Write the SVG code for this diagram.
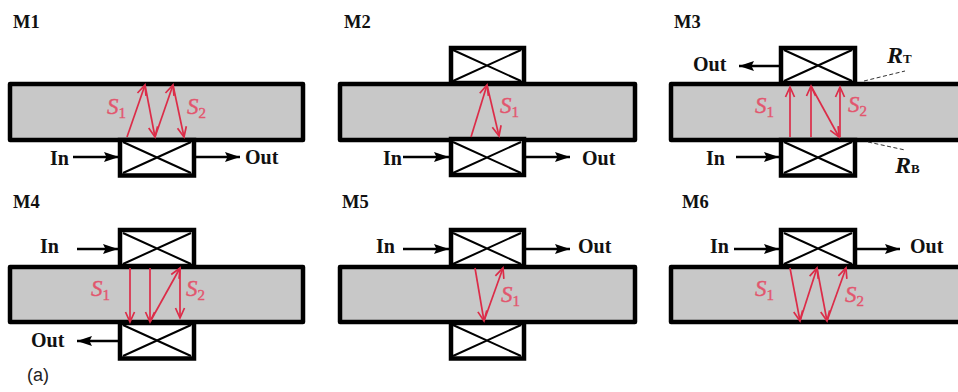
<svg xmlns="http://www.w3.org/2000/svg" width="958" height="392" viewBox="0 0 958 392">
<defs>
<style>
.wg{fill:#c8c8c8;stroke:#000;stroke-width:4.500;stroke-linejoin:round}
.box{fill:#fff;stroke:#000;stroke-width:4.500}
.x{stroke:#000;stroke-width:2;fill:none}
.io{stroke:#000;stroke-width:2.400;fill:none;marker-end:url(#bk)}
.ray{stroke:#dc2c48;stroke-width:1.700;fill:none;marker-end:url(#rd)}
.dash{stroke:#333;stroke-width:1;stroke-dasharray:4 2.5;fill:none}
.t{font-family:"Liberation Serif","Times New Roman",serif;font-weight:bold;font-size:20px;fill:#111}
.h{font-family:"Liberation Serif","Times New Roman",serif;font-weight:bold;font-size:18.500px;fill:#111}
.s{font-family:"Liberation Serif","Times New Roman",serif;font-style:italic;font-size:23px;fill:#e2566e;stroke:#e2566e;stroke-width:.4}
.sub{font-style:normal;font-size:15px}
.r{font-family:"Liberation Serif","Times New Roman",serif;font-style:italic;font-weight:bold;font-size:24px;fill:#111}
.rs{font-style:normal;font-size:13px}
.a{font-family:"Liberation Sans",Arial,sans-serif;font-size:18px;fill:#222}
</style>
<marker id="bk" markerUnits="userSpaceOnUse" markerWidth="16" markerHeight="12" refX="15" refY="6" orient="auto"><path d="M0,1 L15,6 L0,11 L2.500,6 Z" fill="#000"/></marker>
<marker id="rd" markerUnits="userSpaceOnUse" markerWidth="14" markerHeight="14" refX="11" refY="7" orient="auto"><path d="M1,2.500 L11,7 L1,11.500" fill="none" stroke="#dc2c48" stroke-width="1.700"/></marker>
<g id="c"><path class="x" d="M3,2 L71,33 M71,2 L3,33"/></g>
</defs>
<rect width="958" height="392" fill="#fff"/>

<g id="m1">
<text class="h" x="13" y="28">M1</text>
<rect class="wg" x="10" y="84" width="293" height="56"/>
<g id="m1-t"><rect class="box" x="120" y="140" width="74" height="35.500"/><use href="#c" x="120" y="140"/></g>
<text class="t" x="50" y="165">In</text><text class="t" x="245" y="164">Out</text>
<text class="s" x="107" y="114">S<tspan class="sub" dy="4">1</tspan></text>
<text class="s" x="187" y="114">S<tspan class="sub" dy="4">2</tspan></text>
</g>

<g id="m2">
<text class="h" x="344" y="28">M2</text>
<rect class="wg" x="340" y="84" width="295" height="56"/>
<g id="m2-t"><rect class="box" x="451" y="48" width="73" height="35"/><use href="#c" x="450" y="48"/></g>
<g id="m2-b"><rect class="box" x="451" y="139" width="73" height="36"/><use href="#c" x="450" y="140"/></g>
<text class="t" x="383" y="165">In</text><text class="t" x="582" y="165">Out</text>
<text class="s" x="500" y="113">S<tspan class="sub" dy="4">1</tspan></text>
</g>

<g id="m3">
<text class="h" x="674" y="28">M3</text>
<rect class="wg" x="671" y="84" width="295" height="56"/>
<g id="m3-t"><rect class="box" x="781" y="48" width="74" height="35"/><use href="#c" x="781" y="48"/></g>
<g id="m3-b"><rect class="box" x="781" y="140" width="74" height="35.500"/><use href="#c" x="781" y="140"/></g>
<text class="t" x="693" y="71">Out</text><text class="t" x="706" y="165">In</text>
<text class="s" x="755" y="113">S<tspan class="sub" dy="4">1</tspan></text>
<text class="s" x="848" y="112">S<tspan class="sub" dy="4">2</tspan></text>
<text class="r" x="887" y="63">R<tspan class="rs">T</tspan></text>
<text class="r" x="895" y="173">R<tspan class="rs">B</tspan></text>
</g>

<g id="m4">
<text class="h" x="13" y="208">M4</text>
<rect class="wg" x="10" y="267" width="293" height="55"/>
<g id="m4-t"><rect class="box" x="120" y="230" width="74" height="36"/><use href="#c" x="120" y="231"/></g>
<g id="m4-b"><rect class="box" x="120" y="323" width="74" height="35.500"/><use href="#c" x="120" y="323"/></g>
<text class="t" x="40" y="253">In</text><text class="t" x="31" y="347">Out</text>
<text class="s" x="91" y="296">S<tspan class="sub" dy="4">1</tspan></text>
<text class="s" x="186" y="296">S<tspan class="sub" dy="4">2</tspan></text>
<text class="a" x="27" y="381">(a)</text>
</g>

<g id="m5">
<text class="h" x="342" y="208">M5</text>
<rect class="wg" x="340" y="267" width="295" height="55"/>
<g id="m5-t"><rect class="box" x="451" y="230" width="73" height="36"/><use href="#c" x="450" y="231"/></g>
<g id="m5-b"><rect class="box" x="451" y="323" width="73" height="35.500"/><use href="#c" x="450" y="323"/></g>
<text class="t" x="376" y="253">In</text><text class="t" x="578" y="253">Out</text>
<text class="s" x="501" y="302">S<tspan class="sub" dy="4">1</tspan></text>
</g>

<g id="m6">
<text class="h" x="682" y="208">M6</text>
<rect class="wg" x="671" y="267" width="295" height="55"/>
<g id="m6-t"><rect class="box" x="781" y="230" width="74" height="36"/><use href="#c" x="781" y="231"/></g>
<text class="t" x="710" y="253">In</text><text class="t" x="910" y="253">Out</text>
<text class="s" x="755" y="296">S<tspan class="sub" dy="4">1</tspan></text>
<text class="s" x="845" y="302">S<tspan class="sub" dy="4">2</tspan></text>
</g>

<g id="connectors">
<path class="io" d="M73,157 H119"/><path class="io" d="M196,157 H240"/>
<path class="ray" d="M127,137 L145,85"/><path class="ray" d="M145,85 L155,137"/><path class="ray" d="M155,137 L173,85"/><path class="ray" d="M173,85 L184,137"/>

<path class="io" d="M403,157 H449"/><path class="io" d="M526,157 H570"/>
<path class="ray" d="M471,137 L487,85"/><path class="ray" d="M487,85 L499,136"/>

<path class="io" d="M779,66 H739"/><path class="io" d="M736,157 H779"/>
<path class="ray" d="M790,137 V87"/><path class="ray" d="M811,137 V86"/><path class="ray" d="M811,86 L839,137"/><path class="ray" d="M840,137 V87"/>
<path class="dash" d="M864,81 L905,71"/><path class="dash" d="M868,142 L905,150"/>

<path class="io" d="M77,249 H118"/><path class="io" d="M118,341 H77"/>
<path class="ray" d="M130,268 V322"/><path class="ray" d="M150,268 V322"/><path class="ray" d="M150,322 L180,268"/><path class="ray" d="M180,268 V318"/>

<path class="io" d="M403,249 H449"/><path class="io" d="M526,249 H570"/>
<path class="ray" d="M475,268 L484,321"/><path class="ray" d="M484,321 L503,268"/>

<path class="io" d="M734,249 H779"/><path class="io" d="M857,249 H900"/>
<path class="ray" d="M790,268 L800,321"/><path class="ray" d="M800,321 L817,268"/><path class="ray" d="M817,268 L827,321"/><path class="ray" d="M827,321 L846,268"/>
</g>
</svg>
